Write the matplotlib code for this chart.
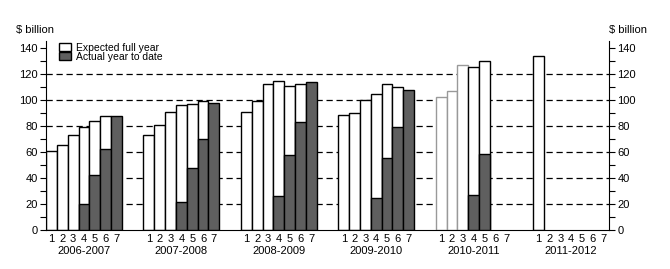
import matplotlib
matplotlib.use('Agg')
import matplotlib.pyplot as plt
import numpy as np
from matplotlib.transforms import blended_transform_factory
from matplotlib.patches import Patch

plt.rcParams.update({'font.family': 'Liberation Sans', 'font.size': 8,
                     'axes.linewidth': 0.8})

nan = np.nan
years = ['2006-2007', '2007-2008', '2008-2009', '2009-2010', '2010-2011', '2011-2012']
months = ['1', '2', '3', '4', '5', '6', '7']

# expected full year ($ billion), by estimate 1..7
exp_0607 = [61, 65, 73, 79.5, 84, 88, nan]
exp_0708 = [73, 80.5, 91, 96, 96.7, 99, nan]
exp_0809 = [90.5, 99, 112, 114.4, 110.5, 112, nan]
exp_0910 = [88.2, 89.7, 99.7, 104.4, 112, 109.7, nan]
exp_1011 = [102.3, 107.2, 126.7, 125.1, 129.7, nan, nan]
exp_1112 = [133.8, nan, nan, nan, nan, nan, nan]

# actual year to date ($ billion)
act_0607 = [nan, nan, nan, 20, 42.3, 62.3, 88]
act_0708 = [nan, nan, nan, 21.5, 47.4, 69.8, 97.4]
act_0809 = [nan, nan, nan, 25.9, 57.4, 82.8, 113.6]
act_0910 = [nan, nan, nan, 24.4, 55.1, 79, 107.4]
act_1011 = [nan, nan, nan, 26.7, 58.2, nan, nan]
act_1112 = [nan, nan, nan, nan, nan, nan, nan]

expected = [exp_0607, exp_0708, exp_0809, exp_0910, exp_1011, exp_1112]
actual = [act_0607, act_0708, act_0809, act_0910, act_1011, act_1112]

fig = plt.figure(figsize=(6.7, 2.69), dpi=100)
ax = fig.add_axes([0.0687, 0.145, 0.8403, 0.701])

dark = '#5f5f5f'
gap = 2
ticks, ticklabels = [], []
for g, yr in enumerate(years):
    x0 = g * (7 + gap)
    xs = x0 + np.arange(7) + 0.5
    for i in range(7):
        ec = '#999999' if (yr == '2010-2011' and i < 3) else 'black'
        if not np.isnan(expected[g][i]):
            ax.bar(xs[i], expected[g][i], width=1, color='white', edgecolor=ec,
                   lw=1.0, zorder=2)
        if not np.isnan(actual[g][i]):
            ax.bar(xs[i], actual[g][i], width=1, color=dark, edgecolor='black',
                   lw=1.0, zorder=3)
    ticks += list(xs)
    ticklabels += months
    ax.text(x0 + 3.5, -0.085, yr, transform=blended_transform_factory(ax.transData, ax.transAxes),
            ha='center', va='top', fontsize=8)

ax.set_xlim(0, 6 * 7 + 5 * gap)
ax.set_ylim(0, 145)
ax.set_xticks(ticks, ticklabels)
ax.tick_params(axis='x', length=0, pad=3)

for y in range(20, 140, 20):
    ax.axhline(y, color='black', lw=0.9, ls=(0, (5, 3)), zorder=1)

ax.spines['top'].set_visible(False)
ax.set_yticks(np.arange(0, 141, 20))
ax.set_yticks(np.arange(10, 140, 20), minor=True)
ax.tick_params(axis='y', which='both', direction='out', length=4, width=0.8, pad=2,
               left=True, right=True, labelleft=True, labelright=True)

ax.text(-0.053, 1.035, '$ billion', transform=ax.transAxes, ha='left', va='bottom', fontsize=8)
ax.text(1.0, 1.035, '$ billion', transform=ax.transAxes, ha='left', va='bottom', fontsize=8)

handles = [Patch(facecolor='white', edgecolor='black', lw=1.0, label='Expected full year'),
           Patch(facecolor=dark, edgecolor='black', lw=1.0, label='Actual year to date')]
ax.legend(handles=handles, loc='upper left', bbox_to_anchor=(0.01, 1.03), frameon=False,
          fontsize=7.5, labelspacing=-0.1, handlelength=1.2, handleheight=0.8,
          handletextpad=0.4, borderpad=0.2)

fig.savefig('out.png', dpi=100)
